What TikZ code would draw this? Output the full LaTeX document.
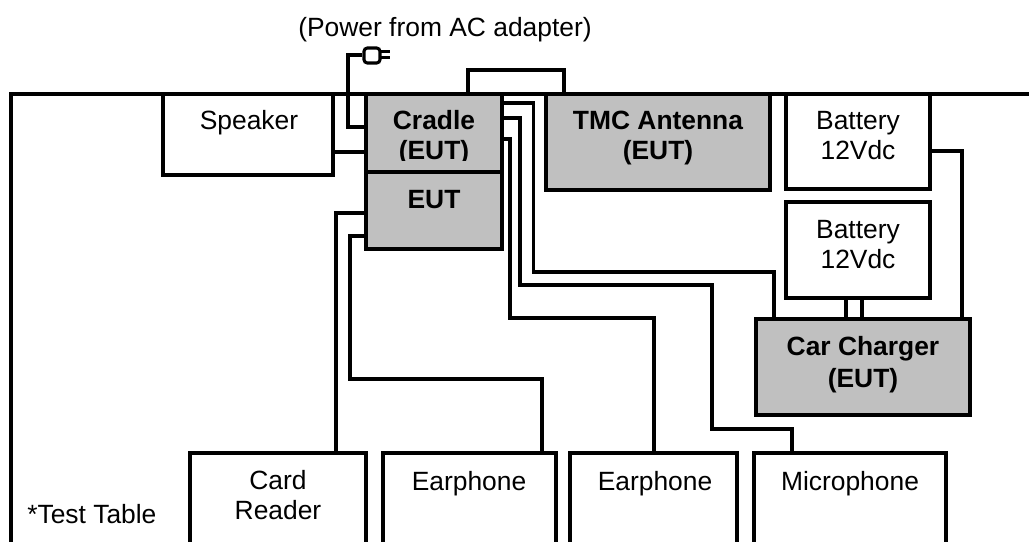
\documentclass[tikz,border=0pt]{standalone}
\usepackage{fontspec}
\setmainfont{Liberation Sans}
\usetikzlibrary{fit}
\definecolor{boxgrey}{HTML}{C0C0C0}
\tikzset{
  px/.style={x=0.75pt,y=-0.75pt},
  whitebox/.style={draw=black,line width=2.3pt,fill=white,inner sep=0pt,outer sep=0pt,rectangle},
  greybox/.style={whitebox,fill=boxgrey},
  conn/.style={draw=black,line width=2.3pt},
  prong/.style={draw=black,line width=2.3pt},
  tablelim/.style={draw=black,line width=2.3pt},
  lab/.style={anchor=base,inner sep=0pt,font=\fontsize{19.8pt}{22.5pt}\selectfont},
  blab/.style={anchor=base,inner sep=0pt,font=\fontsize{19.8pt}{22.5pt}\selectfont\bfseries},
}
\newcommand{\boxat}[6]{\node[#2,fit={(#3,#4)(#5,#6)}] (#1) {};}
\begin{document}
\begin{tikzpicture}[px]
\useasboundingbox (0,0) rectangle (1029,542);
\clip (0,0) rectangle (1029,542);
\fill[white] (0,0) rectangle (1029,542);
% test table outline
\coordinate (tr) at (1029,94);
\coordinate (tl) at (11,94);
\coordinate (bl) at (11,560);
\draw[tablelim] (tr) -- (tl) -- (bl);
% boxes
\boxat{spk}{whitebox}{163}{94}{333}{175}
\boxat{crd}{greybox}{366}{94}{502}{172}
\boxat{tmc}{greybox}{546}{94}{770}{190}
\boxat{bat1}{whitebox}{786}{94}{930}{189}
\boxat{bat2}{whitebox}{786}{202}{930}{298}
\boxat{chg}{greybox}{756}{319}{970}{415}
\boxat{rdr}{whitebox}{190}{453}{366}{560}
\boxat{ear1}{whitebox}{383}{453}{556}{560}
\boxat{ear2}{whitebox}{570}{453}{737}{560}
\boxat{mic}{whitebox}{754}{453}{946}{560}
% cradle text, cut off by the EUT box
\begin{scope}
\clip (366,94) rectangle (502,160.5);
\node[blab] (tcrd1) at (434,129) {Cradle};
\node[blab] (tcrd2) at (434,159) {(EUT)};
\end{scope}
\boxat{eut}{greybox}{366}{172}{502}{249}
% plug
\node[draw=black,line width=2.3pt,rounded corners=2.5pt,fill=white,inner sep=0pt,fit={(364,48)(380,63)}] (plug) {};
\coordinate (p1a) at (380,51.5);
\coordinate (p1b) at (390,51.5);
\coordinate (p2a) at (380,57.5);
\coordinate (p2b) at (390,57.5);
\draw[prong] (p1a) -- (p1b);
\draw[prong] (p2a) -- (p2b);
% connectors
\draw[conn] (crd.west |- 0,127) -| (348,55) -- (plug.west |- 0,55);
\draw[conn] (spk.east |- 0,152) -- (crd.west |- 0,152);
\draw[conn] (crd.north -| 468,0) |- (564,70) -- (tmc.north -| 564,0);
\draw[conn] (crd.east |- 0,103) -| (533.5,272) -| (chg.north -| 774,0);
\draw[conn] (crd.east |- 0,118) -| (520,285) -| (712,429) -| (mic.north -| 792,0);
\draw[conn] (crd.east |- 0,139) -| (510,318) -| (ear2.north -| 654,0);
\draw[conn] (eut.west |- 0,213) -| (rdr.north -| 336,0);
\draw[conn] (eut.west |- 0,236) -| (350,379) -| (ear1.north -| 542,0);
\draw[conn] (bat2.south -| 846,0) -- (chg.north -| 846,0);
\draw[conn] (bat2.south -| 862,0) -- (chg.north -| 862,0);
\draw[conn] (bat1.east |- 0,151) -| (chg.north -| 962,0);
% texts
\node[lab] (tpow) at (445,37) {(Power from AC adapter)};
\node[lab] (tspk) at (249,130) {Speaker};
\node[blab] (teut) at (434,208) {EUT};
\node[blab] (ttmc1) at (658,130) {TMC Antenna};
\node[blab] (ttmc2) at (658,160) {(EUT)};
\node[lab] (tb11) at (858,130) {Battery};
\node[lab] (tb12) at (858,160) {12Vdc};
\node[lab] (tb21) at (858,238) {Battery};
\node[lab] (tb22) at (858,268) {12Vdc};
\node[blab] (tchg1) at (863,355) {Car Charger};
\node[blab] (tchg2) at (863,387) {(EUT)};
\node[lab] (trd1) at (278,489) {Card};
\node[lab] (trd2) at (278,519) {Reader};
\node[lab] (te1) at (469,490) {Earphone};
\node[lab] (te2) at (655,490) {Earphone};
\node[lab] (tm) at (850,490) {Microphone};
\node[lab,anchor=base west] (ttt) at (27,523) {*Test Table};
\end{tikzpicture}
\end{document}
